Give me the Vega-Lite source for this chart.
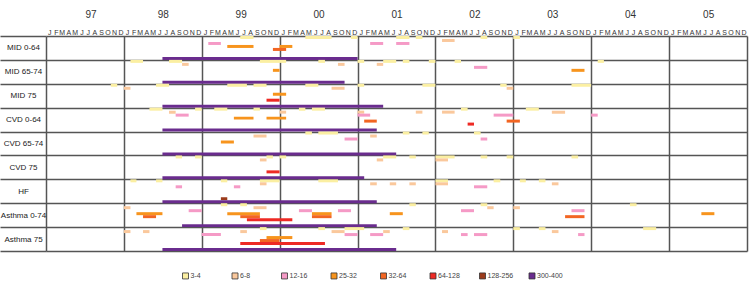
{
  "$schema": "https://vega.github.io/schema/vega-lite/v6.json",
  "width": 701,
  "height": 215,
  "autosize": "none",
  "padding": {"left": 46, "top": 36, "right": 2, "bottom": 34},
  "config": {
    "view": {"stroke": null},
    "font": "Liberation Sans"
  },
  "data": {
    "values": [
      {"row": "MID 0-64", "cat": "3-4", "start": "1999-07-01", "end": "1999-09-01"},
      {"row": "MID 0-64", "cat": "3-4", "start": "2000-05-01", "end": "2000-09-01"},
      {"row": "MID 0-64", "cat": "3-4", "start": "2000-12-01", "end": "2001-01-01"},
      {"row": "MID 0-64", "cat": "3-4", "start": "2001-07-01", "end": "2001-09-01"},
      {"row": "MID 0-64", "cat": "3-4", "start": "2001-10-01", "end": "2001-11-01"},
      {"row": "MID 0-64", "cat": "3-4", "start": "2002-08-01", "end": "2002-09-01"},
      {"row": "MID 0-64", "cat": "3-4", "start": "2003-01-01", "end": "2003-02-01"},
      {"row": "MID 0-64", "cat": "6-8", "start": "2002-02-01", "end": "2002-04-01"},
      {"row": "MID 0-64", "cat": "12-16", "start": "1999-02-01", "end": "1999-04-01"},
      {"row": "MID 0-64", "cat": "12-16", "start": "2001-03-01", "end": "2001-05-01"},
      {"row": "MID 0-64", "cat": "12-16", "start": "2001-07-01", "end": "2001-09-01"},
      {"row": "MID 0-64", "cat": "25-32", "start": "1999-05-01", "end": "1999-09-01"},
      {"row": "MID 0-64", "cat": "25-32", "start": "2000-01-01", "end": "2000-03-01"},
      {"row": "MID 0-64", "cat": "32-64", "start": "1999-12-01", "end": "2000-02-01"},
      {"row": "MID 0-64", "cat": "300-400", "start": "1998-07-01", "end": "2001-01-01"},

      {"row": "MID 65-74", "cat": "3-4", "start": "1998-02-01", "end": "1998-04-01"},
      {"row": "MID 65-74", "cat": "3-4", "start": "1998-08-01", "end": "1998-10-01"},
      {"row": "MID 65-74", "cat": "3-4", "start": "1999-10-01", "end": "2000-02-01"},
      {"row": "MID 65-74", "cat": "3-4", "start": "2000-07-01", "end": "2000-08-01"},
      {"row": "MID 65-74", "cat": "3-4", "start": "2001-01-01", "end": "2001-02-01"},
      {"row": "MID 65-74", "cat": "3-4", "start": "2001-05-01", "end": "2001-07-01"},
      {"row": "MID 65-74", "cat": "3-4", "start": "2001-08-01", "end": "2001-09-01"},
      {"row": "MID 65-74", "cat": "3-4", "start": "2001-12-01", "end": "2002-01-01"},
      {"row": "MID 65-74", "cat": "3-4", "start": "2002-04-01", "end": "2002-05-01"},
      {"row": "MID 65-74", "cat": "3-4", "start": "2004-02-01", "end": "2004-03-01"},
      {"row": "MID 65-74", "cat": "6-8", "start": "1998-10-01", "end": "1998-11-01"},
      {"row": "MID 65-74", "cat": "6-8", "start": "2000-10-01", "end": "2000-11-01"},
      {"row": "MID 65-74", "cat": "6-8", "start": "2001-04-01", "end": "2001-05-01"},
      {"row": "MID 65-74", "cat": "12-16", "start": "2002-07-01", "end": "2002-09-01"},
      {"row": "MID 65-74", "cat": "25-32", "start": "1999-12-01", "end": "2000-01-01"},
      {"row": "MID 65-74", "cat": "25-32", "start": "2003-10-01", "end": "2003-12-01"},
      {"row": "MID 65-74", "cat": "300-400", "start": "1998-07-01", "end": "2000-11-01"},

      {"row": "MID 75", "cat": "3-4", "start": "1997-11-01", "end": "1997-12-01"},
      {"row": "MID 75", "cat": "3-4", "start": "1998-06-01", "end": "1998-08-01"},
      {"row": "MID 75", "cat": "3-4", "start": "1999-05-01", "end": "1999-08-01"},
      {"row": "MID 75", "cat": "3-4", "start": "1999-09-01", "end": "1999-11-01"},
      {"row": "MID 75", "cat": "3-4", "start": "2000-05-01", "end": "2000-07-01"},
      {"row": "MID 75", "cat": "3-4", "start": "2001-01-01", "end": "2001-02-01"},
      {"row": "MID 75", "cat": "3-4", "start": "2001-11-01", "end": "2002-01-01"},
      {"row": "MID 75", "cat": "3-4", "start": "2002-11-01", "end": "2002-12-01"},
      {"row": "MID 75", "cat": "3-4", "start": "2003-10-01", "end": "2004-01-01"},
      {"row": "MID 75", "cat": "6-8", "start": "1998-01-01", "end": "1998-02-01"},
      {"row": "MID 75", "cat": "6-8", "start": "2000-09-01", "end": "2000-11-01"},
      {"row": "MID 75", "cat": "6-8", "start": "2002-12-01", "end": "2003-01-01"},
      {"row": "MID 75", "cat": "25-32", "start": "1999-12-01", "end": "2000-02-01"},
      {"row": "MID 75", "cat": "64-128", "start": "1999-11-01", "end": "2000-01-01"},
      {"row": "MID 75", "cat": "300-400", "start": "1998-07-01", "end": "2001-05-01"},

      {"row": "CVD 0-64", "cat": "3-4", "start": "1998-05-01", "end": "1998-07-01"},
      {"row": "CVD 0-64", "cat": "3-4", "start": "1998-12-01", "end": "1999-01-01"},
      {"row": "CVD 0-64", "cat": "3-4", "start": "1999-03-01", "end": "1999-05-01"},
      {"row": "CVD 0-64", "cat": "3-4", "start": "1999-09-01", "end": "1999-10-01"},
      {"row": "CVD 0-64", "cat": "3-4", "start": "2000-04-01", "end": "2000-05-01"},
      {"row": "CVD 0-64", "cat": "3-4", "start": "2000-06-01", "end": "2000-08-01"},
      {"row": "CVD 0-64", "cat": "3-4", "start": "2002-05-01", "end": "2002-06-01"},
      {"row": "CVD 0-64", "cat": "3-4", "start": "2003-03-01", "end": "2003-05-01"},
      {"row": "CVD 0-64", "cat": "6-8", "start": "1998-08-01", "end": "1998-09-01"},
      {"row": "CVD 0-64", "cat": "6-8", "start": "2000-01-01", "end": "2000-02-01"},
      {"row": "CVD 0-64", "cat": "6-8", "start": "2001-01-01", "end": "2001-02-01"},
      {"row": "CVD 0-64", "cat": "6-8", "start": "2001-10-01", "end": "2001-11-01"},
      {"row": "CVD 0-64", "cat": "6-8", "start": "2002-02-01", "end": "2002-04-01"},
      {"row": "CVD 0-64", "cat": "6-8", "start": "2003-07-01", "end": "2003-09-01"},
      {"row": "CVD 0-64", "cat": "12-16", "start": "1998-09-01", "end": "1998-11-01"},
      {"row": "CVD 0-64", "cat": "12-16", "start": "2001-01-01", "end": "2001-03-01"},
      {"row": "CVD 0-64", "cat": "12-16", "start": "2002-10-01", "end": "2003-01-01"},
      {"row": "CVD 0-64", "cat": "12-16", "start": "2004-01-01", "end": "2004-02-01"},
      {"row": "CVD 0-64", "cat": "25-32", "start": "1999-06-01", "end": "1999-09-01"},
      {"row": "CVD 0-64", "cat": "25-32", "start": "1999-11-01", "end": "2000-02-01"},
      {"row": "CVD 0-64", "cat": "32-64", "start": "2001-02-01", "end": "2001-04-01"},
      {"row": "CVD 0-64", "cat": "32-64", "start": "2002-12-01", "end": "2003-02-01"},
      {"row": "CVD 0-64", "cat": "64-128", "start": "2002-06-01", "end": "2002-07-01"},
      {"row": "CVD 0-64", "cat": "300-400", "start": "1998-07-01", "end": "2001-04-01"},

      {"row": "CVD 65-74", "cat": "3-4", "start": "2000-05-01", "end": "2000-06-01"},
      {"row": "CVD 65-74", "cat": "3-4", "start": "2000-07-01", "end": "2000-10-01"},
      {"row": "CVD 65-74", "cat": "3-4", "start": "2001-08-01", "end": "2001-09-01"},
      {"row": "CVD 65-74", "cat": "3-4", "start": "2001-11-01", "end": "2001-12-01"},
      {"row": "CVD 65-74", "cat": "3-4", "start": "2002-07-01", "end": "2002-08-01"},
      {"row": "CVD 65-74", "cat": "6-8", "start": "1999-09-01", "end": "1999-11-01"},
      {"row": "CVD 65-74", "cat": "6-8", "start": "2001-03-01", "end": "2001-04-01"},
      {"row": "CVD 65-74", "cat": "12-16", "start": "2000-11-01", "end": "2001-01-01"},
      {"row": "CVD 65-74", "cat": "12-16", "start": "2002-08-01", "end": "2002-09-01"},
      {"row": "CVD 65-74", "cat": "25-32", "start": "1999-04-01", "end": "1999-06-01"},
      {"row": "CVD 65-74", "cat": "300-400", "start": "1998-07-01", "end": "2001-07-01"},

      {"row": "CVD 75", "cat": "3-4", "start": "1998-09-01", "end": "1998-10-01"},
      {"row": "CVD 75", "cat": "3-4", "start": "1998-12-01", "end": "1999-01-01"},
      {"row": "CVD 75", "cat": "3-4", "start": "1999-11-01", "end": "1999-12-01"},
      {"row": "CVD 75", "cat": "3-4", "start": "2000-01-01", "end": "2000-02-01"},
      {"row": "CVD 75", "cat": "3-4", "start": "2001-05-01", "end": "2001-07-01"},
      {"row": "CVD 75", "cat": "3-4", "start": "2001-09-01", "end": "2001-10-01"},
      {"row": "CVD 75", "cat": "3-4", "start": "2002-01-01", "end": "2002-04-01"},
      {"row": "CVD 75", "cat": "3-4", "start": "2002-08-01", "end": "2002-09-01"},
      {"row": "CVD 75", "cat": "3-4", "start": "2002-12-01", "end": "2003-01-01"},
      {"row": "CVD 75", "cat": "3-4", "start": "2003-10-01", "end": "2003-11-01"},
      {"row": "CVD 75", "cat": "6-8", "start": "1999-10-01", "end": "1999-11-01"},
      {"row": "CVD 75", "cat": "6-8", "start": "2001-04-01", "end": "2001-05-01"},
      {"row": "CVD 75", "cat": "6-8", "start": "2002-01-01", "end": "2002-03-01"},
      {"row": "CVD 75", "cat": "64-128", "start": "1999-11-01", "end": "2000-01-01"},
      {"row": "CVD 75", "cat": "300-400", "start": "1998-07-01", "end": "2001-02-01"},

      {"row": "HF", "cat": "3-4", "start": "1998-02-01", "end": "1998-03-01"},
      {"row": "HF", "cat": "3-4", "start": "1998-06-01", "end": "1998-07-01"},
      {"row": "HF", "cat": "3-4", "start": "1999-04-01", "end": "1999-05-01"},
      {"row": "HF", "cat": "3-4", "start": "1999-10-01", "end": "2000-01-01"},
      {"row": "HF", "cat": "3-4", "start": "2000-07-01", "end": "2000-10-01"},
      {"row": "HF", "cat": "3-4", "start": "2002-01-01", "end": "2002-03-01"},
      {"row": "HF", "cat": "3-4", "start": "2002-10-01", "end": "2002-11-01"},
      {"row": "HF", "cat": "3-4", "start": "2003-02-01", "end": "2003-03-01"},
      {"row": "HF", "cat": "3-4", "start": "2003-05-01", "end": "2003-06-01"},
      {"row": "HF", "cat": "6-8", "start": "1999-10-01", "end": "1999-11-01"},
      {"row": "HF", "cat": "6-8", "start": "2001-03-01", "end": "2001-04-01"},
      {"row": "HF", "cat": "6-8", "start": "2001-06-01", "end": "2001-07-01"},
      {"row": "HF", "cat": "6-8", "start": "2001-09-01", "end": "2001-10-01"},
      {"row": "HF", "cat": "6-8", "start": "2002-01-01", "end": "2002-03-01"},
      {"row": "HF", "cat": "6-8", "start": "2003-07-01", "end": "2003-08-01"},
      {"row": "HF", "cat": "12-16", "start": "1998-09-01", "end": "1998-10-01"},
      {"row": "HF", "cat": "12-16", "start": "1999-06-01", "end": "1999-07-01"},
      {"row": "HF", "cat": "12-16", "start": "2002-07-01", "end": "2002-09-01"},
      {"row": "HF", "cat": "128-256", "start": "1999-04-01", "end": "1999-05-01"},
      {"row": "HF", "cat": "300-400", "start": "1998-07-01", "end": "2001-04-01"},

      {"row": "Asthma 0-74", "cat": "3-4", "start": "1999-04-01", "end": "1999-05-01"},
      {"row": "Asthma 0-74", "cat": "3-4", "start": "1999-07-01", "end": "1999-08-01"},
      {"row": "Asthma 0-74", "cat": "3-4", "start": "2001-09-01", "end": "2001-10-01"},
      {"row": "Asthma 0-74", "cat": "3-4", "start": "2002-08-01", "end": "2002-09-01"},
      {"row": "Asthma 0-74", "cat": "3-4", "start": "2004-07-01", "end": "2004-08-01"},
      {"row": "Asthma 0-74", "cat": "6-8", "start": "1998-01-01", "end": "1998-02-01"},
      {"row": "Asthma 0-74", "cat": "6-8", "start": "1999-09-01", "end": "1999-11-01"},
      {"row": "Asthma 0-74", "cat": "6-8", "start": "2002-09-01", "end": "2002-10-01"},
      {"row": "Asthma 0-74", "cat": "6-8", "start": "2003-01-01", "end": "2003-02-01"},
      {"row": "Asthma 0-74", "cat": "12-16", "start": "1998-11-01", "end": "1999-01-01"},
      {"row": "Asthma 0-74", "cat": "12-16", "start": "2000-04-01", "end": "2000-06-01"},
      {"row": "Asthma 0-74", "cat": "12-16", "start": "2000-10-01", "end": "2000-12-01"},
      {"row": "Asthma 0-74", "cat": "12-16", "start": "2002-05-01", "end": "2002-07-01"},
      {"row": "Asthma 0-74", "cat": "12-16", "start": "2003-10-01", "end": "2003-12-01"},
      {"row": "Asthma 0-74", "cat": "25-32", "start": "1998-03-01", "end": "1998-07-01"},
      {"row": "Asthma 0-74", "cat": "25-32", "start": "1999-05-01", "end": "1999-10-01"},
      {"row": "Asthma 0-74", "cat": "25-32", "start": "2000-06-01", "end": "2000-09-01"},
      {"row": "Asthma 0-74", "cat": "25-32", "start": "2001-06-01", "end": "2001-08-01"},
      {"row": "Asthma 0-74", "cat": "25-32", "start": "2005-06-01", "end": "2005-08-01"},
      {"row": "Asthma 0-74", "cat": "32-64", "start": "1998-04-01", "end": "1998-06-01"},
      {"row": "Asthma 0-74", "cat": "32-64", "start": "1999-07-01", "end": "1999-10-01"},
      {"row": "Asthma 0-74", "cat": "32-64", "start": "2000-06-01", "end": "2000-09-01"},
      {"row": "Asthma 0-74", "cat": "32-64", "start": "2003-09-01", "end": "2003-12-01"},
      {"row": "Asthma 0-74", "cat": "64-128", "start": "1999-08-01", "end": "2000-03-01"},
      {"row": "Asthma 0-74", "cat": "300-400", "start": "1998-10-01", "end": "2001-04-01"},

      {"row": "Asthma 75", "cat": "3-4", "start": "1999-10-01", "end": "1999-11-01"},
      {"row": "Asthma 75", "cat": "3-4", "start": "2000-07-01", "end": "2000-08-01"},
      {"row": "Asthma 75", "cat": "3-4", "start": "2000-11-01", "end": "2001-02-01"},
      {"row": "Asthma 75", "cat": "3-4", "start": "2001-08-01", "end": "2001-09-01"},
      {"row": "Asthma 75", "cat": "3-4", "start": "2003-01-01", "end": "2003-02-01"},
      {"row": "Asthma 75", "cat": "3-4", "start": "2003-05-01", "end": "2003-06-01"},
      {"row": "Asthma 75", "cat": "3-4", "start": "2004-09-01", "end": "2004-11-01"},
      {"row": "Asthma 75", "cat": "6-8", "start": "1998-01-01", "end": "1998-02-01"},
      {"row": "Asthma 75", "cat": "6-8", "start": "1998-04-01", "end": "1998-05-01"},
      {"row": "Asthma 75", "cat": "6-8", "start": "1999-07-01", "end": "1999-08-01"},
      {"row": "Asthma 75", "cat": "6-8", "start": "2000-09-01", "end": "2000-11-01"},
      {"row": "Asthma 75", "cat": "6-8", "start": "2001-05-01", "end": "2001-06-01"},
      {"row": "Asthma 75", "cat": "6-8", "start": "2002-02-01", "end": "2002-03-01"},
      {"row": "Asthma 75", "cat": "6-8", "start": "2003-07-01", "end": "2003-08-01"},
      {"row": "Asthma 75", "cat": "12-16", "start": "1999-01-01", "end": "1999-04-01"},
      {"row": "Asthma 75", "cat": "12-16", "start": "2000-11-01", "end": "2001-01-01"},
      {"row": "Asthma 75", "cat": "12-16", "start": "2001-03-01", "end": "2001-05-01"},
      {"row": "Asthma 75", "cat": "12-16", "start": "2002-05-01", "end": "2002-06-01"},
      {"row": "Asthma 75", "cat": "12-16", "start": "2002-07-01", "end": "2002-09-01"},
      {"row": "Asthma 75", "cat": "12-16", "start": "2003-11-01", "end": "2003-12-01"},
      {"row": "Asthma 75", "cat": "25-32", "start": "1999-11-01", "end": "2000-03-01"},
      {"row": "Asthma 75", "cat": "32-64", "start": "1999-10-01", "end": "2000-01-01"},
      {"row": "Asthma 75", "cat": "64-128", "start": "1999-07-01", "end": "2000-08-01"},
      {"row": "Asthma 75", "cat": "300-400", "start": "1998-07-01", "end": "2001-07-01"}
    ]
  },
  "resolve": {"axis": {"x": "independent"}},
  "layer": [
    {
      "mark": {"type": "bar"},
      "encoding": {
        "x": {
          "field": "start",
          "type": "temporal",
          "scale": {
            "type": "utc",
            "domain": [
              {"year": 1997, "month": 1, "date": 1, "utc": true},
              {"year": 2006, "month": 1, "date": 1, "utc": true}
            ]
          },
          "axis": {
            "orient": "top",
            "title": null,
            "tickCount": {"interval": "month", "step": 1},
            "labelExpr": "utcyear(datum.value) > 2005 ? '' : substring(utcFormat(datum.value, '%b'), 0, 1)",
            "labelOffset": 3.2,
            "labelAlign": "center",
            "labelBaseline": "alphabetic",
            "labelPadding": 1.3,
            "labelFontSize": 7,
            "labelColor": "#333",
            "labelOverlap": false,
            "labelBound": false,
            "labelFlush": false,
            "ticks": false,
            "domain": false,
            "grid": false
          }
        },
        "x2": {"field": "end"},
        "y": {
          "field": "row",
          "type": "nominal",
          "sort": ["MID 0-64", "MID 65-74", "MID 75", "CVD 0-64", "CVD 65-74", "CVD 75", "HF", "Asthma 0-74", "Asthma 75"],
          "scale": {"paddingInner": 0, "paddingOuter": 0},
          "axis": {
            "title": null,
            "grid": true,
            "tickBand": "extent",
            "gridColor": "#555",
            "gridWidth": 1.5,
            "ticks": true,
            "tickSize": 46,
            "tickColor": "#555",
            "tickWidth": 1.5,
            "domain": false,
            "labelAlign": "center",
            "labelBaseline": "middle",
            "labelPadding": -23,
            "labelFontSize": 8,
            "labelColor": "#222"
          }
        },
        "yOffset": {
          "field": "cat",
          "type": "nominal",
          "scale": {
            "domain": ["3-4", "6-8", "12-16", "25-32", "32-64", "64-128", "128-256", "300-400"],
            "paddingInner": 0,
            "paddingOuter": 0
          }
        },
        "color": {
          "field": "cat",
          "type": "nominal",
          "scale": {
            "domain": ["3-4", "6-8", "12-16", "25-32", "32-64", "64-128", "128-256", "300-400"],
            "range": ["#FBEFA2", "#FAC89C", "#F59AC6", "#F7941D", "#F26522", "#EE2A24", "#9B3B1B", "#6A2C8E"]
          },
          "legend": {
            "orient": "none",
            "legendX": 136,
            "legendY": 236,
            "direction": "horizontal",
            "gridAlign": "all",
            "columnPadding": 12.5,
            "title": null,
            "symbolType": "square",
            "symbolSize": 36,
            "symbolStrokeColor": "#333",
            "symbolStrokeWidth": 0.8,
            "labelFontSize": 7,
            "labelColor": "#444",
            "labelOffset": 1.5
          }
        }
      }
    },
    {
      "mark": {"type": "rule", "opacity": 0},
      "encoding": {
        "x": {
          "field": "start",
          "type": "temporal",
          "scale": {
            "type": "utc",
            "domain": [
              {"year": 1997, "month": 1, "date": 1, "utc": true},
              {"year": 2006, "month": 1, "date": 1, "utc": true}
            ]
          },
          "axis": {
            "orient": "top",
            "title": null,
            "tickCount": {"interval": "year", "step": 1},
            "labelExpr": "utcyear(datum.value) > 2005 ? '' : utcFormat(datum.value, '%y')",
            "labelOffset": 39,
            "labelPadding": 16.7,
            "labelFontSize": 10,
            "labelColor": "#333",
            "ticks": false,
            "domain": false,
            "grid": true,
            "gridColor": "#555",
            "gridWidth": 1.5,
            "gridOpacity": 1
          }
        }
      }
    }
  ]
}
